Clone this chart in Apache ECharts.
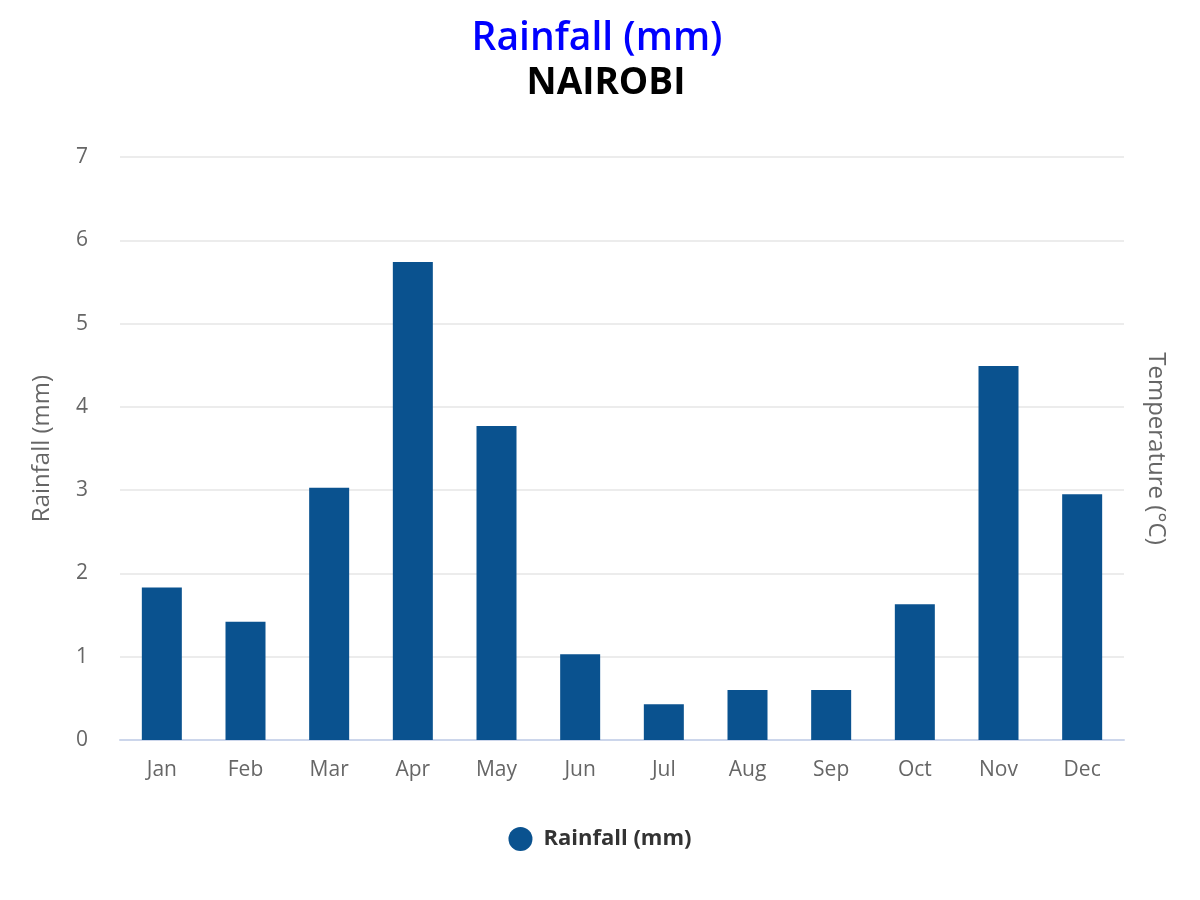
<!DOCTYPE html>
<html>
<head>
<meta charset="utf-8">
<script src="https://cdn.jsdelivr.net/npm/echarts@6/dist/echarts.min.js"></script>
<style>
html, body { margin: 0; padding: 0; background: #fff; }
#main { width: 1200px; height: 900px; }
</style>
</head>
<body>
<div id="main"></div>
<script>
var months = ['Jan', 'Feb', 'Mar', 'Apr', 'May', 'Jun', 'Jul', 'Aug', 'Sep', 'Oct', 'Nov', 'Dec'];
var rainfall = [1.83, 1.42, 3.03, 5.74, 3.77, 1.03, 0.43, 0.6, 0.6, 1.63, 4.49, 2.95];
var yTicks = [0, 7, 1];

var font = '"Open Sans", "DejaVu Sans", sans-serif';
var chart = echarts.init(document.getElementById('main'));

chart.setOption({
    animation: false,
    textStyle: { fontFamily: font },
    title: [
        {
            text: 'Rainfall (mm)',
            left: 592,
            top: 14,
            textAlign: 'center',
            textStyle: { color: '#0000ff', fontSize: 39, fontWeight: 600, fontFamily: font }
        },
        {
            text: 'NAIROBI',
            left: 601,
            top: 60,
            textAlign: 'center',
            textStyle: { color: '#000', fontSize: 37, fontWeight: 'bold', fontFamily: font }
        }
    ],
    legend: {
        bottom: 44,
        left: 'center',
        icon: 'circle',
        itemWidth: 24,
        itemHeight: 24,
        itemGap: 10,
        textStyle: { fontSize: 22, fontWeight: 'bold', color: '#333', fontFamily: font, padding: [0, 0, 0, 6] }
    },
    grid: { left: 120, right: 76, top: 157, bottom: 160 },
    xAxis: {
        type: 'category',
        data: months,
        axisLine: { lineStyle: { color: '#ccd6eb', width: 2 } },
        axisTick: { show: false },
        axisLabel: { color: '#666', fontSize: 21, margin: 20, fontFamily: font }
    },
    yAxis: [
        {
            type: 'value',
            min: yTicks[0],
            max: yTicks[1],
            interval: yTicks[2],
            name: 'Rainfall (mm)',
            nameLocation: 'middle',
            nameGap: 66,
            nameTextStyle: { color: '#666', fontSize: 24, fontFamily: font },
            axisLabel: { color: '#666', fontSize: 21, margin: 32, fontFamily: font },
            splitLine: { lineStyle: { color: '#e6e6e6', width: 1.5 } }
        },
        {
            type: 'value',
            position: 'right',
            min: yTicks[0],
            max: yTicks[1],
            interval: yTicks[2],
            name: 'Temperature (°C)',
            nameLocation: 'middle',
            nameRotate: -90,
            nameGap: 20,
            nameTextStyle: { color: '#666', fontSize: 24, fontFamily: font },
            axisLabel: { show: false },
            axisLine: { show: false },
            axisTick: { show: false },
            splitLine: { show: false }
        }
    ],
    series: [
        {
            name: 'Rainfall (mm)',
            type: 'bar',
            data: rainfall,
            barWidth: 40,
            itemStyle: { color: '#0a528f' }
        }
    ]
});
</script>
</body>
</html>
